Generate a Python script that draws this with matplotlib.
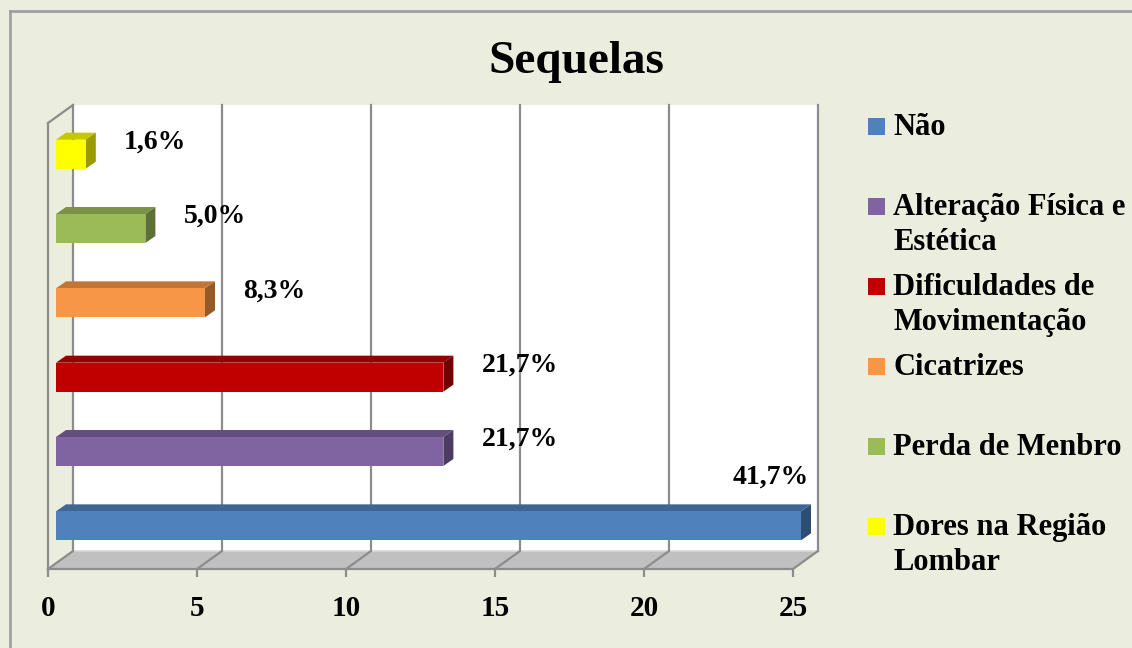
import numpy as np
import matplotlib.pyplot as plt
from matplotlib.patches import Polygon, Rectangle
from matplotlib.lines import Line2D
from matplotlib.transforms import IdentityTransform

plt.rcParams['font.family'] = ['Liberation Serif', 'DejaVu Serif']
plt.rcParams['font.weight'] = 'bold'

# data (bottom bar first)
categorias = ["Não", "Alteração Física e Estética", "Dificuldades de Movimentação",
              "Cicatrizes", "Perda de Menbro", "Dores na Região Lombar"]
legenda = ["Não", "Alteração Física e\nEstética", "Dificuldades de\nMovimentação",
           "Cicatrizes", "Perda de Menbro", "Dores na Região\nLombar"]
valores = [25, 13, 13, 5, 3, 1]
percentuais = ["41,7%", "21,7%", "21,7%", "8,3%", "5,0%", "1,6%"]
cores = ["#4F81BD", "#8064A2", "#C00000", "#F79646", "#9BBB59", "#FFFF00"]
ticks = [0, 5, 10, 15, 20, 25]

W, H = 1132, 648
fundo = '#EBEEDF'
cinza = '#8C8C8C'

fig = plt.figure(figsize=(W / 100, H / 100), dpi=100)
fig.patch.set_facecolor(fundo)

# front plane of the pseudo 3d box (pixels)
left, right, top, bottom = 48, 793, 123, 569
ax = fig.add_axes([left / W, 1 - bottom / H, (right - left) / W, (bottom - top) / H])
ax.set_xlim(0, 25)
ax.set_ylim(-0.5, 5.5)
ax.patch.set_visible(False)

wall = (25, 18)      # depth of the box
plane = (8, 6)       # where the bars sit
depth = (10, 7)      # depth of each bar
h = 0.39             # bar height


def px(x, y, d=(0, 0)):
    p = ax.transData.transform((x, y))
    return (p[0] + d[0], p[1] + d[1])


def add_poly(pts, **kw):
    ax.add_artist(Polygon(pts, closed=True, transform=IdentityTransform(),
                          clip_on=False, **kw))


def add_line(a, b, **kw):
    ax.add_artist(Line2D([a[0], b[0]], [a[1], b[1]], transform=IdentityTransform(),
                         clip_on=False, **kw))


def shade(c, f):
    r, g, b = [int(c[i:i + 2], 16) for i in (1, 3, 5)]
    return (r * f / 255, g * f / 255, b * f / 255)


y0, y1 = ax.get_ylim()
x0, x1 = ax.get_xlim()

# back wall
add_poly([px(x0, y0, wall), px(x1, y0, wall), px(x1, y1, wall), px(x0, y1, wall)],
         facecolor='white', edgecolor='none', zorder=0.5)
for t in ticks:
    add_line(px(t, y0, wall), px(t, y1, wall), color=cinza, lw=1.6, zorder=0.6)

# left wall top edge
add_line(px(x0, y1), px(x0, y1, wall), color=cinza, lw=1.6, zorder=0.6)

# floor
add_poly([px(x0, y0), px(x1, y0), px(x1, y0, wall), px(x0, y0, wall)],
         facecolor='#C0C0C0', edgecolor='none', zorder=0.7)
add_line(px(x0, y0, wall), px(x1, y0, wall), color='#D8D8D8', lw=1.2, zorder=0.75)
for t in ticks:
    add_line(px(t, y0), px(t, y0, wall), color=cinza, lw=1.6, zorder=0.8)

# bars
for i, (v, c) in enumerate(zip(valores, cores)):
    b, tp = i - h / 2, i + h / 2
    front = [px(0, b, plane), px(v, b, plane), px(v, tp, plane), px(0, tp, plane)]
    dp = (plane[0] + depth[0], plane[1] + depth[1])
    topf = [px(0, tp, plane), px(v, tp, plane), px(v, tp, dp), px(0, tp, dp)]
    side = [px(v, b, plane), px(v, b, dp), px(v, tp, dp), px(v, tp, plane)]
    add_poly(topf, facecolor=shade(c, 0.78), edgecolor='none', zorder=3)
    add_poly(side, facecolor=shade(c, 0.6), edgecolor='none', zorder=3)
    add_poly(front, facecolor=c, edgecolor='none', zorder=3.1)

# percentage labels
vmax = max(valores)
for i, (v, s) in enumerate(zip(valores, percentuais)):
    x, y = px(v, i, plane)
    if v == vmax:
        ax.text(x + 8, y + 49, s, transform=IdentityTransform(), ha='right',
                va='center', fontsize=20, fontweight='bold', zorder=5)
    else:
        ax.text(x + 38, y + 12, s, transform=IdentityTransform(), ha='left',
                va='center', fontsize=20, fontweight='bold', zorder=5)

# axes styling
ax.set_xticks(ticks)
ax.set_yticks([])
ax.tick_params(axis='x', length=6, width=1.6, color=cinza, labelsize=21, pad=13)
for lado in ['top', 'right']:
    ax.spines[lado].set_visible(False)
for lado in ['bottom', 'left']:
    ax.spines[lado].set_color(cinza)
    ax.spines[lado].set_linewidth(1.6)

# title
fig.text(576 / W, 1 - 62 / H, "Sequelas", ha='center', va='center',
         fontsize=34, fontweight='bold')

# legend, one entry every 80 px, marker on the first line
for i, (lab, c) in enumerate(zip(legenda, cores)):
    base = 135 + 80 * i
    fig.add_artist(Rectangle((868 / W, 1 - base / H), 17 / W, 17 / H,
                             transform=fig.transFigure, facecolor=c, edgecolor='none'))
    for k, linha in enumerate(lab.split("\n")):
        fig.text(893 / W, 1 - (base + 35 * k) / H, linha, ha='left', va='baseline',
                 fontsize=22, fontweight='bold')

# outer frame
fig.add_artist(Line2D([10 / W, 10 / W], [0, 1 - 11 / H], transform=fig.transFigure,
                      color='#A0A0A0', lw=2))
fig.add_artist(Line2D([10 / W, 1], [1 - 11 / H, 1 - 11 / H], transform=fig.transFigure,
                      color='#A0A0A0', lw=2))

fig.savefig('out.png', dpi=100, facecolor=fundo)
